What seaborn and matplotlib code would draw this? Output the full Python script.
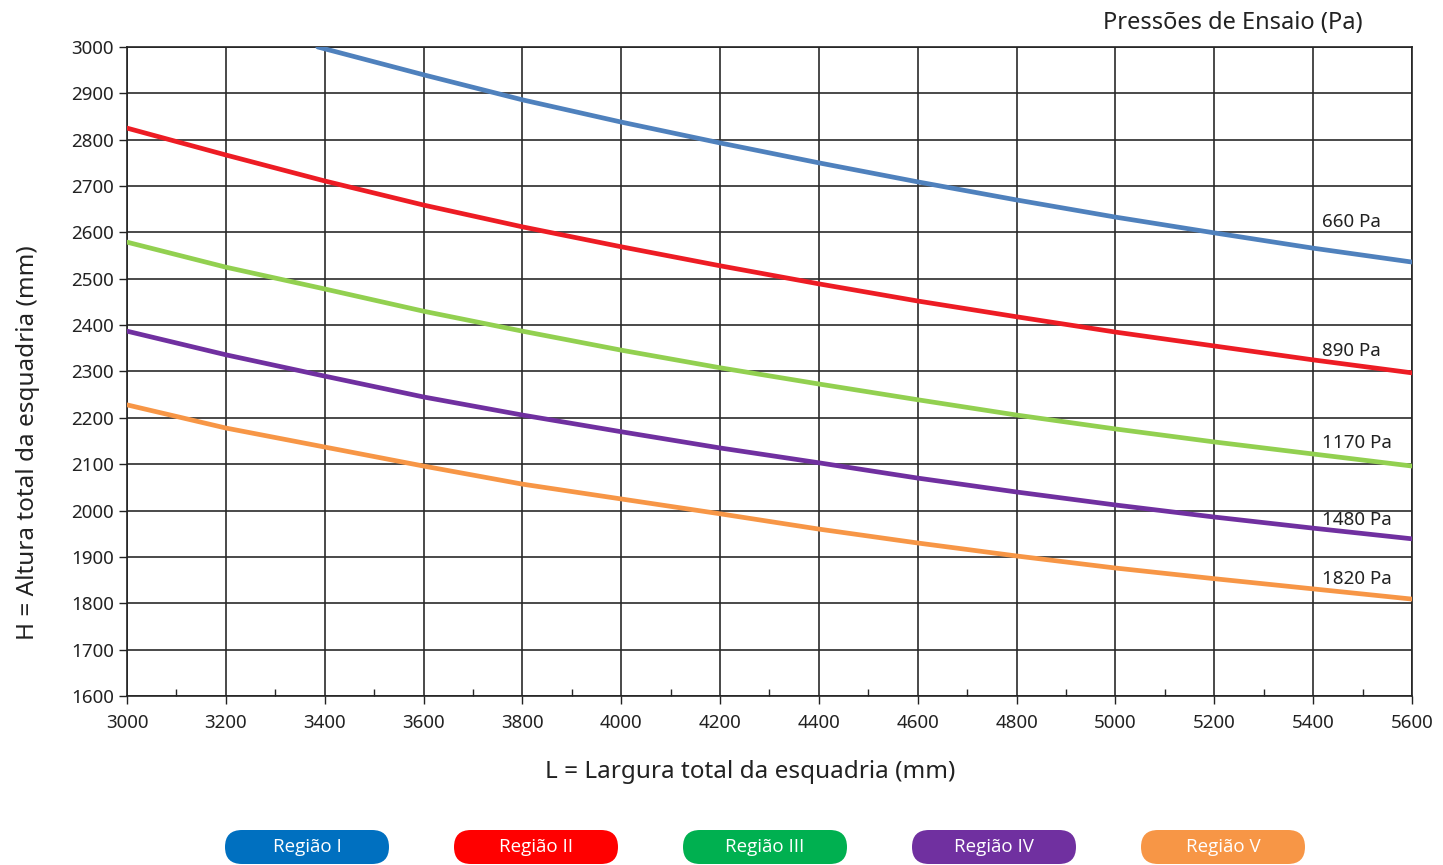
import pandas as pd
import matplotlib.pyplot as plt
import seaborn as sns
from matplotlib.patches import FancyBboxPatch
from matplotlib.ticker import MultipleLocator

# values (mm)
largura = [3000, 3200, 3400, 3600, 3800, 4000, 4200, 4400, 4600, 4800, 5000, 5200, 5400, 5600]
largura_660 = [3386] + largura[3:]
h_660 = [3000, 2940, 2886, 2838, 2793, 2750, 2709, 2670, 2633, 2599, 2566, 2536]
h_890 = [2825, 2767, 2711, 2659, 2612, 2569, 2528, 2489, 2452, 2418, 2385, 2355, 2325, 2297]
h_1170 = [2579, 2525, 2478, 2430, 2387, 2346, 2308, 2273, 2239, 2206, 2176, 2148, 2122, 2096]
h_1480 = [2387, 2336, 2290, 2245, 2206, 2170, 2135, 2103, 2070, 2040, 2012, 1986, 1962, 1939]
h_1820 = [2228, 2178, 2137, 2096, 2057, 2025, 1993, 1960, 1930, 1902, 1876, 1853, 1831, 1809]

pressoes = ['660 Pa', '890 Pa', '1170 Pa', '1480 Pa', '1820 Pa']
label_y = [2622, 2344, 2146, 1980, 1852]
line_colors = ['#4F81BD', '#ED1C24', '#92D050', '#7030A0', '#F79646']

regioes = ['Região I', 'Região II', 'Região III', 'Região IV', 'Região V']
regiao_colors = ['#0070C0', '#FF0000', '#00B050', '#7030A0', '#F79646']

sns.set_style('white')
plt.rcParams['font.family'] = ['Noto Sans', 'DejaVu Sans']

series = [(largura_660, h_660), (largura, h_890), (largura, h_1170), (largura, h_1480), (largura, h_1820)]
frames = []
for p, (xs, ys) in zip(pressoes, series):
    frames.append(pd.DataFrame({'L': xs, 'H': ys, 'pressao': p}))
df = pd.concat(frames, ignore_index=True)

fig = plt.figure(figsize=(14.43, 8.65), dpi=100)
ax = fig.add_axes([0.0880, 0.1954, 0.8905, 0.7503])

sns.lineplot(data=df, x='L', y='H', hue='pressao', palette=dict(zip(pressoes, line_colors)),
             linewidth=3.4, legend=False, ax=ax, zorder=3)

ax.set_xlim(3000, 5600)
ax.set_ylim(1600, 3000)
ax.xaxis.set_major_locator(MultipleLocator(200))
ax.xaxis.set_minor_locator(MultipleLocator(100))
ax.yaxis.set_major_locator(MultipleLocator(100))
ax.grid(True, which='major', color='#2a2a2a', linewidth=1.2)
ax.tick_params(axis='both', which='major', direction='out', length=6, width=1, colors='#222222',
               labelsize=13.5, left=True, bottom=True)
ax.tick_params(axis='x', which='major', pad=7)
ax.tick_params(axis='x', which='minor', direction='in', length=5, width=1, bottom=True)
for s in ax.spines.values():
    s.set_color('#222222')
    s.set_linewidth(1.2)

ax.set_xlabel('L = Largura total da esquadria (mm)', fontsize=17.5, color='#222222')
ax.set_ylabel('H = Altura total da esquadria (mm)', fontsize=17.5, color='#222222')
ax.yaxis.set_label_coords(-0.068, 0.39)
ax.xaxis.set_label_coords(0.485, -0.099)

for p, y in zip(pressoes, label_y):
    ax.text(5418, y, p, fontsize=13.5, ha='left', va='center', color='#222222')

fig.text(0.854, 0.973, 'Pressões de Ensaio (Pa)', fontsize=17, ha='center', va='center', color='#222222')

# rounded legend pills
centers = [307, 536, 765, 994, 1223]
for cx, nome, cor in zip(centers, regioes, regiao_colors):
    pill = FancyBboxPatch(((cx - 82) / 100, (865 - 864) / 100), 1.64, 0.34,
                          boxstyle='round,pad=0,rounding_size=0.17',
                          transform=fig.dpi_scale_trans, facecolor=cor, edgecolor='none')
    fig.patches.append(pill)
    fig.text(cx / 1443, 1 - 847 / 865, nome, fontsize=13.5, color='white', ha='center', va='center',
             family=['Open Sans', 'DejaVu Sans'])

fig.savefig('out.png', dpi=100)
